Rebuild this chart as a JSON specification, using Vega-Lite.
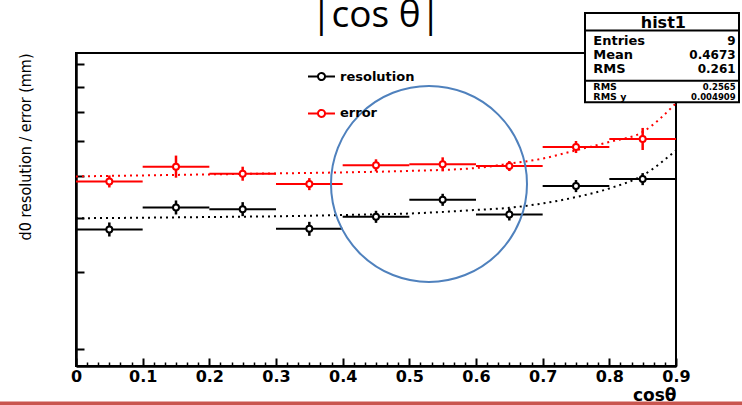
{
  "$schema": "https://vega.github.io/schema/vega-lite/v6.json",
  "width": 600,
  "height": 313,
  "autosize": "none",
  "padding": {"left": 76, "top": 53, "right": 66, "bottom": 39},
  "background": "white",
  "config": {
    "view": {"stroke": "black", "strokeWidth": 2},
    "axis": {"grid": false}
  },
  "title": {
    "text": "|cos θ|",
    "font": "Open Sans",
    "fontSize": 37,
    "fontWeight": "normal",
    "color": "black",
    "anchor": "middle",
    "frame": "group",
    "baseline": "alphabetic",
    "offset": -52
  },
  "datasets": {
    "points": [
      {"series": "resolution", "x": 0.05, "xlo": 0.0, "xhi": 0.1, "y": 3.762, "ylo": 3.625, "yhi": 3.904},
      {"series": "resolution", "x": 0.15, "xlo": 0.1, "xhi": 0.2, "y": 4.226, "ylo": 4.072, "yhi": 4.385},
      {"series": "resolution", "x": 0.25, "xlo": 0.2, "xhi": 0.3, "y": 4.188, "ylo": 4.036, "yhi": 4.346},
      {"series": "resolution", "x": 0.35, "xlo": 0.3, "xhi": 0.4, "y": 3.775, "ylo": 3.638, "yhi": 3.917},
      {"series": "resolution", "x": 0.45, "xlo": 0.4, "xhi": 0.5, "y": 4.022, "ylo": 3.896, "yhi": 4.152},
      {"series": "resolution", "x": 0.55, "xlo": 0.5, "xhi": 0.6, "y": 4.400, "ylo": 4.262, "yhi": 4.542},
      {"series": "resolution", "x": 0.65, "xlo": 0.6, "xhi": 0.7, "y": 4.072, "ylo": 3.945, "yhi": 4.204},
      {"series": "resolution", "x": 0.75, "xlo": 0.7, "xhi": 0.8, "y": 4.730, "ylo": 4.582, "yhi": 4.883},
      {"series": "resolution", "x": 0.85, "xlo": 0.8, "xhi": 0.9, "y": 4.908, "ylo": 4.754, "yhi": 5.066},
      {"series": "error", "x": 0.05, "xlo": 0.0, "xhi": 0.1, "y": 4.848, "ylo": 4.696, "yhi": 5.004},
      {"series": "error", "x": 0.15, "xlo": 0.1, "xhi": 0.2, "y": 5.242, "ylo": 4.945, "yhi": 5.557},
      {"series": "error", "x": 0.25, "xlo": 0.2, "xhi": 0.3, "y": 5.050, "ylo": 4.866, "yhi": 5.240},
      {"series": "error", "x": 0.35, "xlo": 0.3, "xhi": 0.4, "y": 4.780, "ylo": 4.630, "yhi": 4.934},
      {"series": "error", "x": 0.45, "xlo": 0.4, "xhi": 0.5, "y": 5.278, "ylo": 5.113, "yhi": 5.449},
      {"series": "error", "x": 0.55, "xlo": 0.5, "xhi": 0.6, "y": 5.306, "ylo": 5.113, "yhi": 5.506},
      {"series": "error", "x": 0.65, "xlo": 0.6, "xhi": 0.7, "y": 5.258, "ylo": 5.121, "yhi": 5.399},
      {"series": "error", "x": 0.75, "xlo": 0.7, "xhi": 0.8, "y": 5.814, "ylo": 5.632, "yhi": 6.002},
      {"series": "error", "x": 0.85, "xlo": 0.8, "xhi": 0.9, "y": 6.066, "ylo": 5.723, "yhi": 6.430}
    ],
    "fits": [
      {"series": "resolution", "x": 0.0, "y": 3.992},
      {"series": "resolution", "x": 0.1, "y": 4.003},
      {"series": "resolution", "x": 0.2, "y": 4.018},
      {"series": "resolution", "x": 0.3, "y": 4.033},
      {"series": "resolution", "x": 0.4, "y": 4.061},
      {"series": "resolution", "x": 0.5, "y": 4.093},
      {"series": "resolution", "x": 0.6, "y": 4.170},
      {"series": "resolution", "x": 0.65, "y": 4.219},
      {"series": "resolution", "x": 0.7, "y": 4.317},
      {"series": "resolution", "x": 0.75, "y": 4.463},
      {"series": "resolution", "x": 0.8, "y": 4.672},
      {"series": "resolution", "x": 0.85, "y": 5.005},
      {"series": "resolution", "x": 0.9, "y": 5.714},
      {"series": "error", "x": 0.0, "y": 4.978},
      {"series": "error", "x": 0.1, "y": 5.005},
      {"series": "error", "x": 0.2, "y": 5.031},
      {"series": "error", "x": 0.3, "y": 5.058},
      {"series": "error", "x": 0.4, "y": 5.085},
      {"series": "error", "x": 0.5, "y": 5.125},
      {"series": "error", "x": 0.6, "y": 5.204},
      {"series": "error", "x": 0.65, "y": 5.325},
      {"series": "error", "x": 0.7, "y": 5.469},
      {"series": "error", "x": 0.75, "y": 5.714},
      {"series": "error", "x": 0.8, "y": 5.970},
      {"series": "error", "x": 0.85, "y": 6.294},
      {"series": "error", "x": 0.9, "y": 7.328}
    ]
  },
  "resolve": {"axis": {"x": "independent"}},
  "layer": [
    {
      "data": {"name": "points"},
      "mark": {"type": "rule", "strokeWidth": 2},
      "encoding": {
        "x": {"field": "xlo", "type": "quantitative", "scale": {"domain": [0, 0.9], "nice": false, "zero": false},
          "axis": {"orient": "bottom", "title": "cosθ", "values": [0, 0.1, 0.2, 0.3, 0.4, 0.5, 0.6, 0.7, 0.8, 0.9], "format": "~g",
            "tickSize": -8, "tickWidth": 2, "tickColor": "black", "domain": true, "domainWidth": 2.5, "domainColor": "black",
            "labelFont": "DejaVu Sans", "labelFontWeight": "bold", "labelFontSize": 16, "labelColor": "black", "labelPadding": 10, "labelFlush": false, "labelOverlap": false,
            "titleFont": "DejaVu Sans", "titleFontWeight": "bold", "titleFontSize": 17, "titleColor": "black", "titleAnchor": "end", "titleAlign": "right", "titlePadding": 3}},
        "x2": {"field": "xhi"},
        "y": {"field": "y", "type": "quantitative", "scale": {"type": "log", "domain": [1.83, 9.55], "nice": false},
          "axis": {"title": "d0 resolution / error (mm)", "values": [2, 3, 4, 5, 6, 7, 8, 9], "labels": false,
            "tickSize": -8, "tickWidth": 2, "tickColor": "black", "domain": true, "domainWidth": 2.5, "domainColor": "black",
            "titleFont": "Liberation Sans Narrow, DejaVu Sans Condensed, Liberation Sans", "titleFontWeight": "normal", "titleFontSize": 16, "titleColor": "black", "titleAnchor": "end", "titlePadding": 42}},
        "stroke": {"field": "series", "type": "nominal", "scale": {"domain": ["resolution", "error"], "range": ["black", "red"]},
          "legend": {"title": null, "orient": "none", "legendX": 231, "legendY": 9, "direction": "vertical", "padding": 0,
            "symbolType": "M-1,0L-0.26,0M0.26,0L1,0M-0.26,0A0.26,0.26,0,1,0,0.26,0A0.26,0.26,0,1,0,-0.26,0Z",
            "symbolSize": 729, "symbolStrokeWidth": 2, "symbolFillColor": "white", "symbolDash": [1, 0], "symbolOpacity": 1, "rowPadding": 13.9, "labelOffset": 4,
            "labelFont": "DejaVu Sans", "labelFontWeight": "bold", "labelFontSize": 13, "labelColor": "black"}}
      }
    },
    {
      "data": {"name": "fits"},
      "mark": {"type": "line", "strokeDash": [2, 4], "strokeWidth": 2, "interpolate": "monotone"},
      "encoding": {
        "x": {"field": "x", "type": "quantitative",
          "axis": {"orient": "bottom", "title": null, "labels": false, "domain": false, "tickSize": -4, "tickWidth": 1.5, "tickColor": "black",
            "values": [0.0167,0.0333,0.05,0.0667,0.0833,0.1167,0.1333,0.15,0.1667,0.1833,0.2167,0.2333,0.25,0.2667,0.2833,0.3167,0.3333,0.35,0.3667,0.3833,0.4167,0.4333,0.45,0.4667,0.4833,0.5167,0.5333,0.55,0.5667,0.5833,0.6167,0.6333,0.65,0.6667,0.6833,0.7167,0.7333,0.75,0.7667,0.7833,0.8167,0.8333,0.85,0.8667,0.8833]}},
        "y": {"field": "y", "type": "quantitative"},
        "color": {"field": "series", "type": "nominal", "scale": {"domain": ["resolution", "error"], "range": ["black", "red"]}, "legend": null},
        "detail": {"field": "series"}
      }
    },
    {
      "data": {"name": "points"},
      "mark": {"type": "rule", "strokeWidth": 2.5},
      "encoding": {
        "x": {"field": "x", "type": "quantitative", "axis": null},
        "y": {"field": "ylo", "type": "quantitative"},
        "y2": {"field": "yhi"},
        "stroke": {"field": "series", "type": "nominal"}
      }
    },
    {
      "data": {"name": "points"},
      "mark": {"type": "point", "shape": "circle", "filled": true, "fill": "white", "size": 36, "strokeWidth": 2, "opacity": 1},
      "encoding": {
        "x": {"field": "x", "type": "quantitative", "axis": null},
        "y": {"field": "y", "type": "quantitative"},
        "stroke": {"field": "series", "type": "nominal"}
      }
    },
    {
      "data": {"values": [{}]},
      "mark": {"type": "point", "shape": "circle", "filled": false, "stroke": "#4F81BD", "strokeWidth": 2, "size": 38416, "opacity": 1},
      "encoding": {
        "x": {"datum": 0.5295, "type": "quantitative", "axis": null},
        "y": {"datum": 4.785, "type": "quantitative"}
      }
    },
    {
      "data": {"values": [{}]},
      "mark": {"type": "rect", "fill": "white", "stroke": "black", "strokeWidth": 2},
      "encoding": {
        "x": {"datum": 0.7635, "type": "quantitative", "axis": null},
        "x2": {"datum": 0.9945},
        "y": {"datum": 11.80, "type": "quantitative"},
        "y2": {"datum": 7.368}
      }
    },
    {
      "data": {"values": [{}]},
      "mark": {"type": "rule", "stroke": "black", "strokeWidth": 2},
      "encoding": {
        "x": {"datum": 0.7635, "type": "quantitative", "axis": null},
        "x2": {"datum": 0.9945},
        "y": {"datum": 10.76, "type": "quantitative"}
      }
    },
    {
      "data": {"values": [{}]},
      "mark": {"type": "rule", "stroke": "black", "strokeWidth": 2},
      "encoding": {
        "x": {"datum": 0.7635, "type": "quantitative", "axis": null},
        "x2": {"datum": 0.9945},
        "y": {"datum": 8.254, "type": "quantitative"}
      }
    },
    {
      "data": {"values": [{}]},
      "mark": {"type": "text", "text": "hist1", "font": "DejaVu Sans", "fontWeight": "bold", "fontSize": 16, "align": "center", "baseline": "alphabetic", "color": "black"},
      "encoding": {
        "x": {"datum": 0.881, "type": "quantitative", "axis": null},
        "y": {"datum": 10.88, "type": "quantitative"}
      }
    },
    {
      "data": {"values": [{}]},
      "mark": {"type": "text", "text": ["Entries", "Mean", "RMS"], "lineHeight": 14.2, "font": "DejaVu Sans", "fontWeight": "bold", "fontSize": 13, "align": "left", "baseline": "alphabetic", "color": "black"},
      "encoding": {
        "x": {"datum": 0.776, "type": "quantitative", "axis": null},
        "y": {"datum": 9.96, "type": "quantitative"}
      }
    },
    {
      "data": {"values": [{}]},
      "mark": {"type": "text", "text": ["9", "0.4673", "0.261"], "lineHeight": 14.2, "font": "DejaVu Sans", "fontWeight": "bold", "fontSize": 12, "align": "right", "baseline": "alphabetic", "color": "black"},
      "encoding": {
        "x": {"datum": 0.9895, "type": "quantitative", "axis": null},
        "y": {"datum": 9.96, "type": "quantitative"}
      }
    },
    {
      "data": {"values": [{}]},
      "mark": {"type": "text", "text": ["RMS", "RMS y"], "lineHeight": 10, "font": "DejaVu Sans", "fontWeight": "bold", "fontSize": 9.5, "align": "left", "baseline": "alphabetic", "color": "black"},
      "encoding": {
        "x": {"datum": 0.776, "type": "quantitative", "axis": null},
        "y": {"datum": 7.85, "type": "quantitative"}
      }
    },
    {
      "data": {"values": [{}]},
      "mark": {"type": "text", "text": ["0.2565", "0.004909"], "lineHeight": 10, "font": "DejaVu Sans", "fontWeight": "bold", "fontSize": 8.5, "align": "right", "baseline": "alphabetic", "color": "black"},
      "encoding": {
        "x": {"datum": 0.9895, "type": "quantitative", "axis": null},
        "y": {"datum": 7.85, "type": "quantitative"}
      }
    },
    {
      "data": {"values": [{}]},
      "mark": {"type": "rule", "stroke": "#C9554F", "strokeWidth": 4},
      "encoding": {
        "x": {"datum": -0.12, "type": "quantitative", "axis": null},
        "x2": {"datum": 1.01},
        "y": {"datum": 1.501, "type": "quantitative"}
      }
    }
  ]
}
